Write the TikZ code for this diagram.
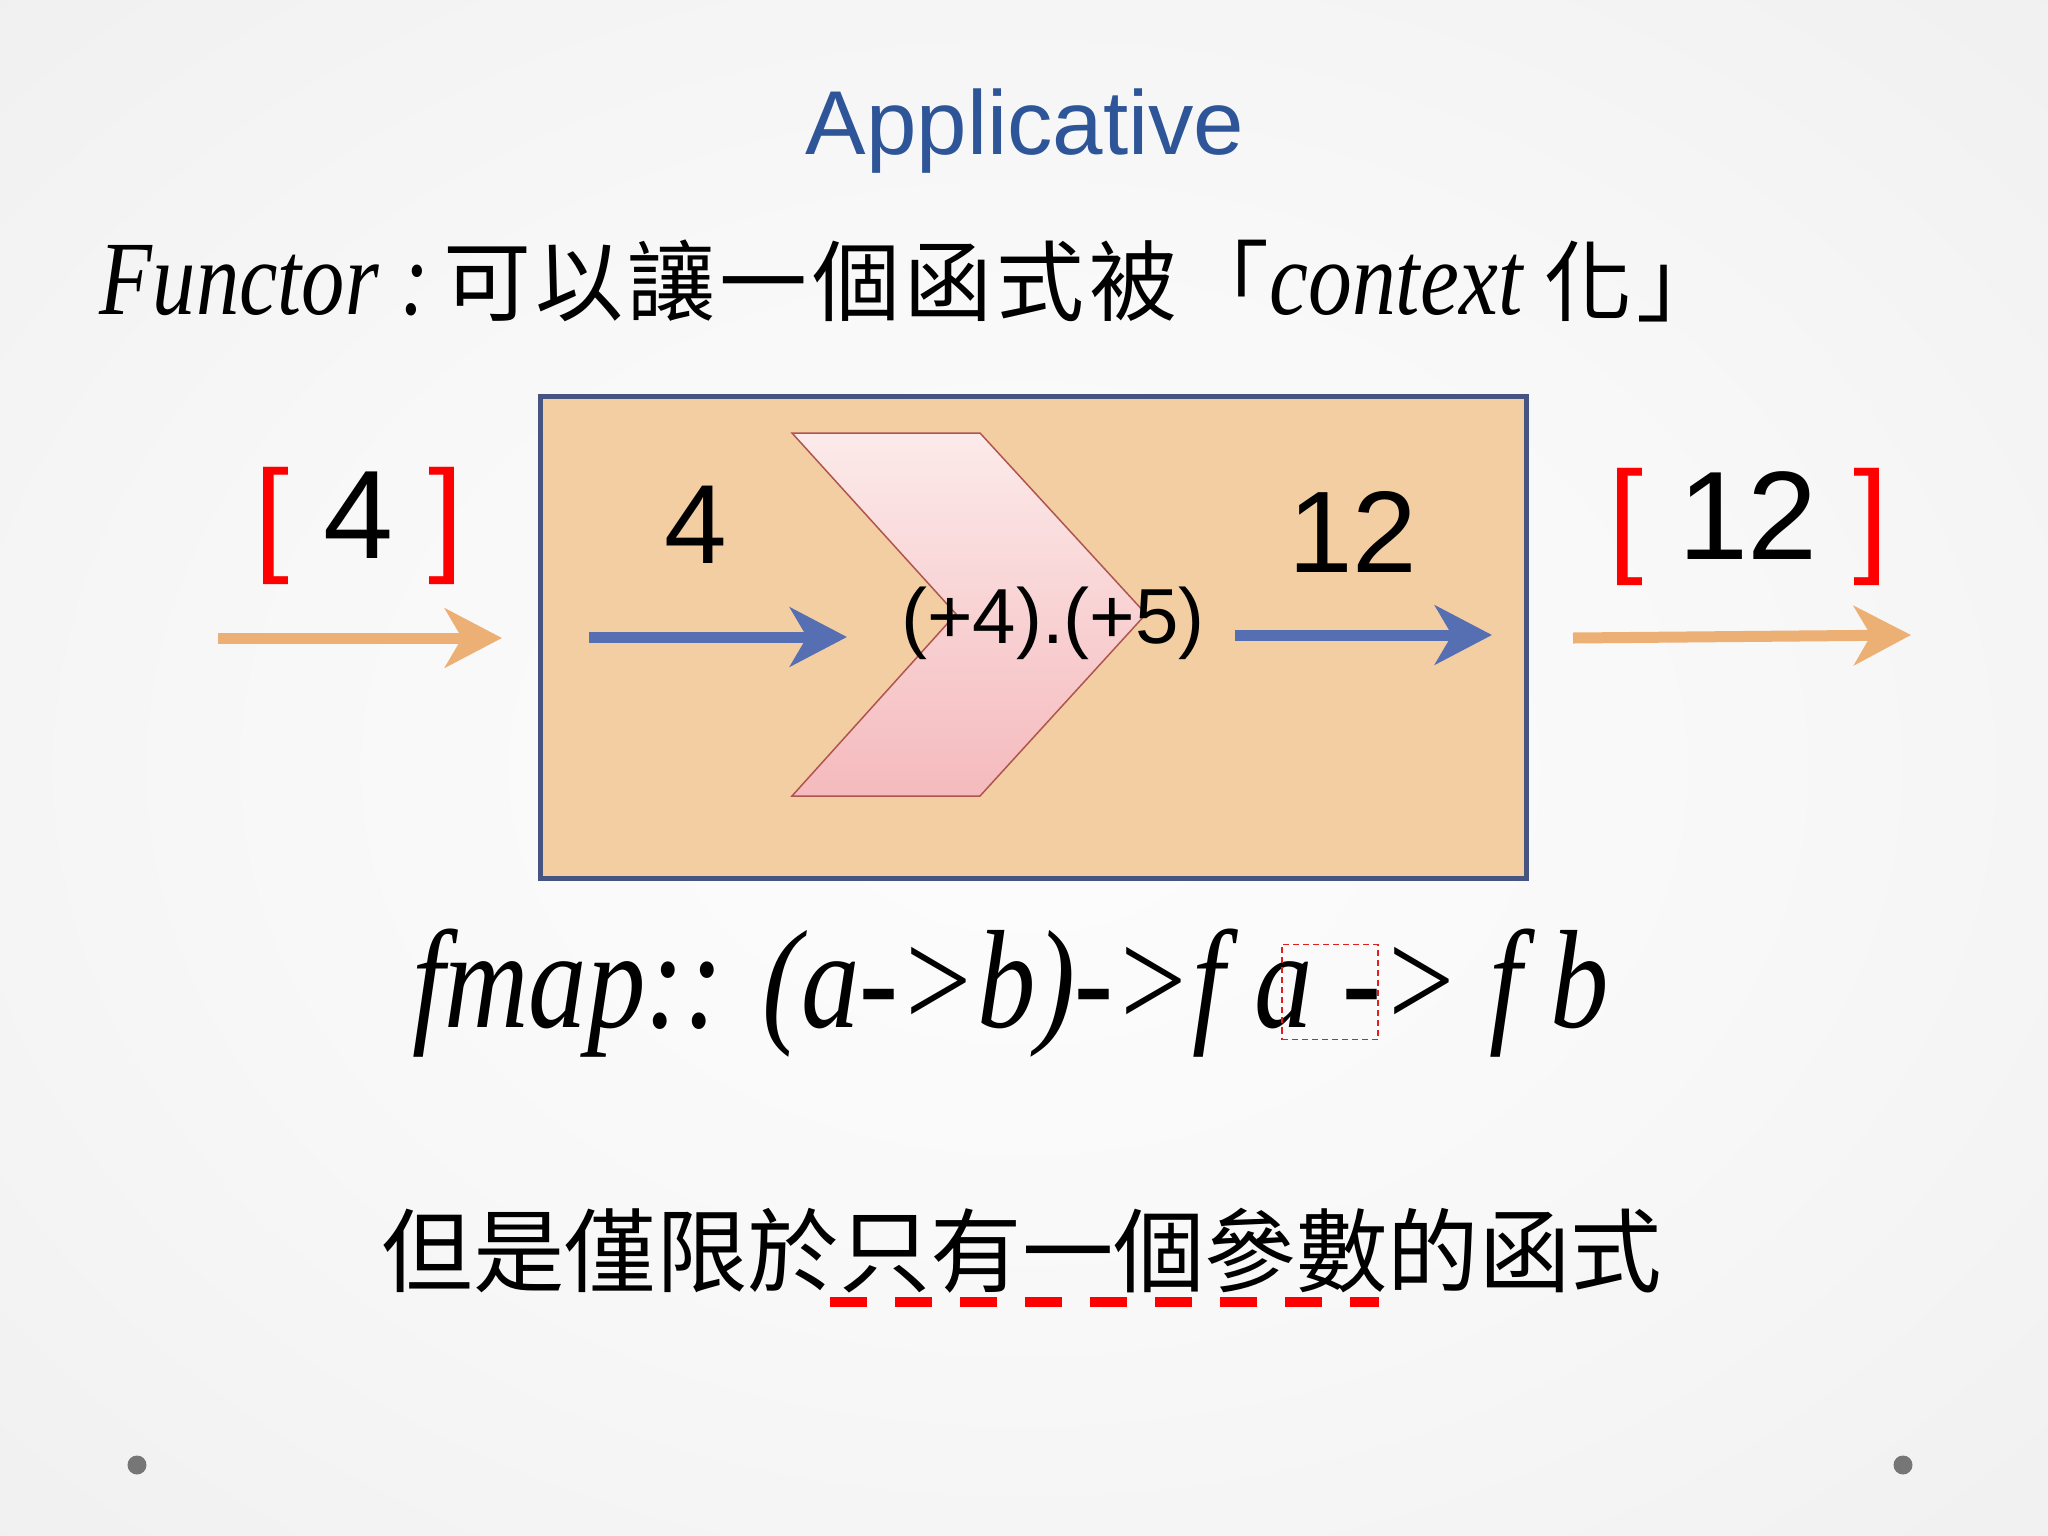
\documentclass[tikz,border=0pt]{standalone}
\usepackage{fontspec}
\usetikzlibrary{arrows.meta}
\newfontfamily\arial{Liberation Sans}
\newfontfamily\latfont{Liberation Serif}
\newfontfamily\cjk{Noto Sans CJK TC}
\newfontfamily\cjksp[LetterSpace=5]{Noto Sans CJK TC}
\newlength\px \setlength\px{0.01cm}
\definecolor{bgA}{RGB}{253,253,253}
\definecolor{bgB}{RGB}{248,248,248}
\definecolor{bgC}{RGB}{234,234,234}
\definecolor{bgD}{RGB}{220,220,220}
\definecolor{titleblue}{RGB}{46,85,151}
\definecolor{orangearr}{RGB}{236,176,116}
\definecolor{bluearr}{RGB}{86,111,178}
\definecolor{boxfill}{RGB}{243,206,163}
\definecolor{boxline}{RGB}{69,84,128}
\definecolor{chevtop}{RGB}{252,234,234}
\definecolor{chevbot}{RGB}{245,186,189}
\definecolor{chevline}{RGB}{175,85,80}
\definecolor{dotgray}{RGB}{118,118,118}
\definecolor{bred}{RGB}{255,0,0}
\definecolor{annred}{RGB}{225,30,30}
\pgfdeclareradialshading{bgshade}{\pgfpoint{0bp}{0bp}}{color(0bp)=(bgA); color(18bp)=(bgB); color(50bp)=(bgC); color(71bp)=(bgD)}
\tikzset{
  txt/.style={inner sep=0pt, outer sep=0pt},
  fatarrow/.style={line width=0.11cm, -{Stealth[length=0.57cm,width=0.59cm,inset=0.17cm]}},
  sansnum/.style={txt, anchor=base, font=\arial\fontsize{#1}{#1}\selectfont},
}
\begin{document}
\begin{tikzpicture}[x=0.01cm,y=-0.01cm]
\useasboundingbox (0,0) rectangle (2048,1536);
\shade[shading=bgshade] (0,0) rectangle (2048,1536);

% title
\node[txt, anchor=base, text=titleblue, font=\arial\fontsize{25.8}{26}\selectfont] (title) at (1025,154) {Applicative};

% functor line
\node[txt, anchor=base west] (functor) at (100,314) {%
  \scalebox{0.82}[1]{\latfont\itshape\fontsize{30}{30}\selectfont Functor :}\hspace{14\px}%
  {\cjksp\fontsize{25}{25}\selectfont 可以讓一個函式被「}%
  \scalebox{0.83}[1]{\latfont\itshape\fontsize{30}{30}\selectfont context\ }%
  {\cjksp\fontsize{25}{25}\selectfont 化」}};

% box
\draw[boxline, fill=boxfill, line width=0.05cm] (540,396) rectangle (1526,878);

% chevron
\coordinate (c1) at (792,433);
\coordinate (c2) at (980,433);
\coordinate (c3) at (1146,614);
\coordinate (c4) at (980,796);
\coordinate (c5) at (792,796);
\coordinate (c6) at (956,614);
\shade[top color=chevtop, bottom color=chevbot, draw=chevline, line width=0.015cm]
  (c1) -- (c2) -- (c3) -- (c4) -- (c5) -- (c6) -- cycle;

% texts in box
\node[sansnum=32] (in4) at (696,563) {4};
\node[sansnum=33] (out12) at (1353,572) {12};
\node[sansnum=22.2] (func) at (1053,643) {(+4).(+5)};

% lists
\node[sansnum=35.8] (list4) at (359,558) {{\color{bred}[}\ 4\ {\color{bred}]}};
\node[sansnum=35.8] (list12) at (1748,559) {{\color{bred}[}\ 12\ {\color{bred}]}};

% arrows
\coordinate (oa1) at (218,638);
\coordinate (oa2) at (502,638);
\coordinate (ob1) at (1573,638);
\coordinate (ob2) at (1911,635);
\coordinate (ba1) at (589,637);
\coordinate (ba2) at (847,637);
\coordinate (bb1) at (1235,635);
\coordinate (bb2) at (1492,635);
\draw[fatarrow, orangearr] (oa1) -- (oa2);
\draw[fatarrow, orangearr] (ob1) -- (ob2);
\draw[fatarrow, bluearr] (ba1) -- (ba2);
\draw[fatarrow, bluearr] (bb1) -- (bb2);

% fmap line
\node[txt, anchor=base west] (fmap) at (412,1027) {%
  \scalebox{0.835}[1]{\latfont\itshape\fontsize{39.8}{40}\selectfont fmap:: (a->b)->f a -> f b}};
\node[txt, draw=annred, line width=0.018cm, dash pattern=on 0.06cm off 0.04cm,
      minimum width=0.96cm, minimum height=0.95cm] (abox) at (1330,992) {};

% bottom line
\node[txt, anchor=center, font=\cjk\fontsize{26}{26}\selectfont] (limit) at (1022,1251) {但是僅限於只有一個參數的函式};
\coordinate (u1) at (830,1302);
\coordinate (u2) at (1379,1302);
\draw[bred, line width=0.1cm, dash pattern=on 0.37cm off 0.28cm] (u1) -- (u2);

% dots
\fill[dotgray] (137,1465) circle (9.5);
\fill[dotgray] (1903,1465) circle (9.5);
\end{tikzpicture}
\end{document}
